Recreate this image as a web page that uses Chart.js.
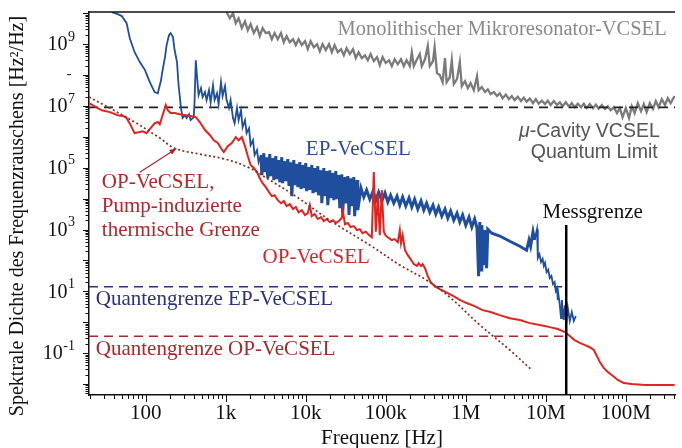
<!DOCTYPE html>
<html>
<head>
<meta charset="utf-8">
<script src="https://cdn.jsdelivr.net/npm/chart.js@4.4.0/dist/chart.umd.min.js"></script>
<style>
  html, body { margin: 0; padding: 0; background: #fff; }
</style>
</head>
<body>
<canvas id="psdChart" width="682" height="448"></canvas>
<script>
// Frequency noise spectra.
// Every trace point is [log10(f / Hz), log10(S / (Hz^2/Hz))].

// Monolithic micro-resonator VCSEL (grey)
const monoVcsel = [
  [3.01,10.04],[3.05,9.84],[3.09,10.00],[3.125,9.68],[3.16,9.84],[3.20,9.52],[3.24,9.74],[3.275,9.45],
  [3.31,9.65],[3.35,9.36],[3.39,9.55],[3.425,9.26],[3.46,9.52],[3.50,9.36],[3.54,9.39],[3.575,9.16],
  [3.61,9.36],[3.65,9.16],[3.69,9.36],[3.725,9.06],[3.76,9.26],[3.80,9.06],[3.84,9.16],[3.875,8.97],
  [3.91,9.16],[3.95,8.97],[3.99,9.10],[4.025,8.84],[4.06,9.10],[4.10,8.90],[4.14,9.00],[4.175,8.77],
  [4.21,9.00],[4.25,8.81],[4.29,9.00],[4.325,8.74],[4.36,8.97],[4.40,8.74],[4.44,8.84],[4.475,8.64],
  [4.51,8.87],[4.55,8.68],[4.59,8.84],[4.625,8.55],[4.66,8.74],[4.70,8.55],[4.74,8.64],[4.775,8.48],
  [4.81,8.68],[4.85,8.45],[4.89,8.58],[4.925,8.32],[4.96,8.58],[5.00,8.39],[5.04,8.48],[5.075,8.29],
  [5.11,8.51],[5.15,8.35],[5.19,8.51],[5.225,8.29],[5.26,8.48],[5.30,8.29],[5.325,8.74],[5.35,8.29],
  [5.39,8.51],[5.425,8.68],[5.45,8.29],[5.49,8.51],[5.525,8.94],[5.55,8.29],[5.59,8.45],[5.61,8.90],
  [5.64,8.06],[5.675,8.00],[5.71,7.77],[5.74,8.55],[5.76,7.77],[5.80,7.93],[5.825,8.48],[5.85,7.71],
  [5.89,7.87],[5.925,8.42],[5.95,7.64],[5.99,7.80],[6.025,7.58],[6.06,7.74],[6.10,7.51],[6.14,7.96],
  [6.16,7.51],[6.20,7.61],[6.24,7.45],[6.275,7.54],[6.31,7.38],[6.35,7.45],[6.39,7.32],[6.425,7.41],
  [6.46,7.25],[6.50,7.37],[6.54,7.22],[6.575,7.32],[6.61,7.19],[6.65,7.30],[6.69,7.16],[6.725,7.27],
  [6.76,7.14],[6.80,7.24],[6.84,7.09],[6.875,7.22],[6.91,7.07],[6.95,7.17],[6.99,7.06],[7.025,7.17],
  [7.06,7.03],[7.10,7.16],[7.14,7.03],[7.175,7.12],[7.21,6.99],[7.25,7.12],[7.29,6.98],[7.325,7.09],
  [7.36,6.96],[7.40,7.07],[7.44,6.96],[7.475,7.07],[7.51,6.93],[7.55,7.06],[7.59,6.93],[7.625,7.04],
  [7.66,6.91],[7.70,7.03],[7.74,6.90],[7.775,6.99],[7.81,6.86],[7.85,6.96],[7.89,6.77],[7.925,6.93],
  [7.96,6.64],[8.00,6.93],[8.04,6.61],[8.075,6.99],[8.11,6.77],[8.15,7.09],[8.19,6.83],[8.225,7.06],
  [8.26,6.80],[8.30,7.09],[8.34,6.90],[8.375,7.16],[8.41,6.96],[8.45,7.22],[8.49,7.03],[8.525,7.25],
  [8.56,7.09],[8.61,7.32]
];

// Electrically pumped VeCSEL (blue)
const epVecsel = [
  [1.575,10.04],[1.65,9.97],[1.70,9.91],[1.76,9.68],[1.80,9.19],[1.86,8.74],[1.925,8.42],[1.99,8.16],
  [2.05,7.77],[2.11,7.45],[2.15,7.41],[2.19,7.83],[2.21,8.16],[2.24,8.58],[2.26,8.97],[2.29,9.29],
  [2.31,9.36],[2.34,9.23],[2.36,8.81],[2.39,8.42],[2.41,7.67],[2.44,6.93],[2.46,6.61],[2.49,6.70],
  [2.51,6.61],[2.54,6.73],[2.56,6.54],[2.60,6.64],[2.61,7.19],[2.625,8.48],[2.64,7.96],[2.66,7.35],
  [2.69,7.58],[2.71,7.29],[2.74,7.45],[2.76,7.19],[2.79,7.51],[2.81,7.12],[2.84,7.67],[2.86,7.19],
  [2.89,7.41],[2.91,7.06],[2.94,7.77],[2.96,7.32],[2.99,7.64],[3.01,7.19],[3.04,6.93],[3.06,7.19],
  [3.09,6.61],[3.11,6.44],[3.14,6.93],[3.16,6.54],[3.19,6.86],[3.21,6.31],[3.24,6.54],[3.26,6.12],
  [3.29,6.28],[3.31,5.73],[3.34,5.89],[3.36,5.41],[3.39,5.57],[3.41,5.18],
  [3.44,5.41],[3.45,4.76],[3.475,5.47],[3.49,4.86],[3.51,5.34],[3.525,4.66],[3.55,5.44],[3.56,4.73],
  [3.59,5.31],[3.60,4.60],[3.625,5.38],[3.64,4.63],[3.66,5.25],[3.675,4.53],[3.70,5.34],[3.71,4.50],
  [3.74,5.21],[3.75,4.57],[3.775,5.28],[3.79,4.41],[3.81,5.18],[3.825,4.08],[3.85,5.25],[3.86,4.44],
  [3.89,5.12],[3.90,4.37],[3.925,5.18],[3.94,4.31],[3.96,5.09],[3.975,4.34],[4.00,5.15],[4.01,4.24],
  [4.04,5.02],[4.05,4.28],[4.075,5.09],[4.09,4.18],[4.11,4.99],[4.125,4.21],[4.15,5.05],[4.16,4.11],
  [4.19,4.92],[4.20,3.85],[4.225,4.99],[4.24,4.08],[4.26,4.89],[4.275,3.79],[4.30,4.92],[4.31,4.02],
  [4.34,4.83],[4.35,3.95],[4.375,4.89],[4.39,3.98],[4.41,4.76],[4.425,3.69],[4.45,4.79],[4.46,3.53],
  [4.49,4.70],[4.50,3.85],[4.525,4.73],[4.54,3.47],[4.56,4.66],[4.575,3.76],[4.60,4.70],[4.61,3.43],
  [4.64,4.60],[4.65,3.63],
  [4.69,4.34],[4.725,4.05],[4.76,4.28],[4.80,3.98],[4.84,4.24],[4.875,3.95],[4.91,4.21],[4.95,3.92],
  [4.99,4.18],[5.025,3.89],[5.06,4.11],[5.10,3.85],[5.14,4.08],[5.175,3.79],[5.21,4.05],[5.25,3.76],
  [5.29,4.02],[5.325,3.73],[5.36,3.98],[5.40,3.66],[5.44,3.92],[5.475,3.63],[5.51,3.85],[5.55,3.56],
  [5.59,3.79],[5.625,3.50],[5.66,3.73],[5.70,3.43],[5.74,3.66],[5.775,3.37],[5.81,3.60],[5.85,3.30],
  [5.89,3.53],[5.925,3.24],[5.96,3.47],[6.00,3.14],[6.04,3.40],[6.075,3.08],[6.11,3.34],[6.14,3.05],
  [6.16,1.49],[6.175,3.24],[6.19,1.69],[6.20,3.14],[6.225,1.85],[6.24,2.98],[6.26,1.75],[6.275,3.01],
  [6.325,2.88],[6.425,2.79],[6.55,2.62],[6.675,2.46],[6.76,2.33],[6.79,2.66],[6.81,2.46],[6.84,2.93],
  [6.86,2.66],[6.89,3.01],[6.90,2.08],[6.92,2.20],[6.94,1.95],[6.96,2.05],[6.975,1.82],[6.99,1.92],
  [7.01,1.62],[7.03,1.70],[7.05,1.43],[7.07,1.50],[7.09,1.23],[7.11,1.30],[7.125,1.01],[7.14,1.10],
  [7.15,0.72],[7.16,0.85],[7.175,0.55],[7.19,0.13],[7.20,0.72],[7.225,0.07],[7.24,0.55],[7.26,0.07],
  [7.275,0.46],[7.30,0.04],[7.325,0.33],[7.35,0.04],[7.375,0.20]
];

// Optically pumped VeCSEL (red)
const opVecsel = [
  [1.29,7.09],[1.36,6.99],[1.45,6.86],[1.55,6.80],[1.65,6.70],[1.725,6.67],[1.76,6.61],[1.81,6.38],
  [1.86,6.12],[1.91,6.15],[1.96,6.18],[2.01,6.12],[2.06,6.28],[2.11,6.44],[2.15,6.48],[2.175,6.41],
  [2.21,6.70],[2.25,7.03],[2.275,6.86],[2.31,6.77],[2.36,6.77],[2.425,6.73],[2.50,6.70],[2.575,6.67],
  [2.625,6.64],[2.675,6.48],[2.74,6.22],[2.80,6.06],[2.85,5.89],[2.90,5.80],[2.94,5.63],[2.975,5.51],
  [3.025,5.70],[3.075,5.80],[3.125,5.99],[3.16,5.89],[3.20,5.99],[3.24,5.70],[3.275,5.38],[3.31,5.09],
  [3.35,4.99],[3.39,4.86],[3.425,4.66],[3.46,4.50],[3.50,4.37],[3.54,4.21],[3.575,4.08],[3.61,4.11],
  [3.65,3.95],[3.69,3.85],[3.725,3.92],[3.76,3.76],[3.80,3.82],[3.84,3.66],[3.875,3.73],[3.91,3.56],
  [3.95,3.63],[3.99,3.47],[4.025,3.53],[4.05,3.79],[4.075,3.43],[4.11,3.50],[4.15,3.34],[4.19,3.40],
  [4.225,3.27],[4.26,3.34],[4.30,3.24],[4.34,3.30],[4.375,3.21],[4.41,3.27],[4.45,3.37],[4.46,3.63],
  [4.49,3.17],[4.525,3.21],[4.56,3.08],[4.60,3.11],[4.64,2.98],[4.675,3.01],[4.71,2.88],[4.75,2.93],
  [4.79,2.82],[4.825,2.75],[4.85,4.86],[4.875,2.93],[4.90,4.11],[4.925,2.82],[4.95,4.28],[4.975,2.93],
  [5.00,2.80],[5.04,2.72],[5.075,2.66],[5.11,2.69],[5.15,2.59],[5.175,2.98],[5.19,2.56],[5.21,2.82],
  [5.24,2.33],[5.275,2.17],[5.31,2.04],[5.35,1.88],[5.39,1.82],[5.41,1.91],[5.44,1.82],[5.46,1.88],
  [5.49,1.75],[5.525,1.49],[5.56,1.30],[5.61,1.17],[5.675,1.07],[5.75,0.97],[5.84,0.85],[5.925,0.72],
  [6.01,0.62],[6.11,0.52],[6.21,0.39],[6.31,0.33],[6.425,0.23],[6.55,0.13],[6.675,0.07],[6.80,-0.03],
  [6.925,-0.09],[7.05,-0.16],[7.15,-0.22],[7.24,-0.32],[7.30,-0.45],[7.36,-0.58],[7.425,-0.67],[7.49,-0.74],
  [7.55,-0.81],[7.60,-0.90],[7.64,-1.10],[7.675,-1.29],[7.725,-1.48],[7.775,-1.61],[7.84,-1.74],[7.90,-1.87],
  [7.975,-1.97],[8.075,-2.00],[8.24,-2.03],[8.425,-2.03],[8.61,-2.03]
];

// Pump-induced thermal limit of the OP-VeCSEL (dotted)
const thermalLimit = [
  [1.29,7.29],[1.55,6.93],[1.86,6.48],[2.175,5.96],[2.36,5.63],[2.675,5.44],[2.99,5.28],[3.275,5.02],
  [3.55,4.60],[3.89,4.05],[4.30,3.30],[4.84,2.43],[5.175,1.85],[5.51,1.36],[5.80,0.81],[6.175,-0.09],
  [6.55,-0.90],[6.825,-1.55]
];

// Horizontal limits [Hz^2/Hz] and their right ends [Hz]
const cavityQuantumLimit = 9.0e6;
const epQuantumLimit = 14;
const epLimitEnd = 1.6e7;
const opQuantumLimit = 0.35;
const opLimitEnd = 1.75e7;

// Measurement limit [Hz] and top of its marker [Hz^2/Hz]
const measurementLimit = 1.8e7;
const measurementTop = 1.4e3;

// Axis ranges and tick labels
const freqMin = 19.5, freqMax = 4.12e8;
const psdMin = 4.4e-3, psdMax = 1.1e10;
const freqTicks = [1e2, 1e3, 1e4, 1e5, 1e6, 1e7, 1e8];
const freqTickLabels = ['100', '1k', '10k', '100k', '1M', '10M', '100M'];
const psdLabelExponents = [9, 7, 5, 3, 1, -1];

const serif = "'Liberation Serif', 'DejaVu Serif', serif";
const sans = "'Liberation Sans', 'DejaVu Sans', sans-serif";

const toXY = trace => trace.map(([lf, lv]) => ({ x: 10 ** lf, y: 10 ** lv }));

// the dense, noisy part of the EP trace is drawn with a heavier pen
const epBandFrom = 2.7e3, epBandTo = 7.5e6;

// Text placed in data coordinates (f in Hz, v in Hz^2/Hz, baseline)
const notes = [
  { parts: [['Monolithischer Mikroresonator-VCSEL', '']], f: 3.24e8, v: 1.95e9, align: 'right', color: '#8a8a8a', family: serif, size: 20.5 },
  { parts: [['\u03bc', 'italic '], ['-Cavity VCSEL', '']], f: 2.66e8, v: 9.8e5, align: 'right', color: '#555', family: sans, size: 19.5 },
  { parts: [['Quantum Limit', '']], f: 2.5e8, v: 2.04e5, align: 'right', color: '#555', family: sans, size: 19.5 },
  { parts: [['EP-VeCSEL', '']], f: 1.0e4, v: 2.57e5, align: 'left', color: '#2b4c9b', family: serif, size: 21 },
  { parts: [['OP-VeCSEL,', '']], f: 28.2, v: 2.19e4, align: 'left', color: '#b3262a', family: serif, size: 21 },
  { parts: [['Pump-induzierte', '']], f: 28.2, v: 3.6e3, align: 'left', color: '#b3262a', family: serif, size: 21 },
  { parts: [['thermische Grenze', '']], f: 28.2, v: 6.1e2, align: 'left', color: '#b3262a', family: serif, size: 21 },
  { parts: [['OP-VeCSEL', '']], f: 2.88e3, v: 81, align: 'left', color: '#d4262a', family: serif, size: 21 },
  { parts: [['Messgrenze', '']], f: 9.1e6, v: 2.3e3, align: 'left', color: '#111', family: serif, size: 21 },
  { parts: [['Quantengrenze EP-VeCSEL', '']], f: 23.7, v: 3.55, align: 'left', color: '#2b3478', family: serif, size: 21 },
  { parts: [['Quantengrenze OP-VeCSEL', '']], f: 23.7, v: 0.087, align: 'left', color: '#a52a2e', family: serif, size: 21 }
];

// Arrow from the label to the thermal limit curve
const arrowFrom = { f: 84, v: 7.2e4 };
const arrowTo = { f: 245, v: 4.3e5 };

const plotDecor = {
  id: 'plotDecor',
  afterDraw(chart) {
    const { ctx, chartArea: area, scales: { x, y } } = chart;
    const seg = (x0, y0, x1, y1) => { ctx.beginPath(); ctx.moveTo(x0, y0); ctx.lineTo(x1, y1); ctx.stroke(); };
    ctx.save();

    // top frame line
    ctx.strokeStyle = '#111';
    ctx.lineWidth = 1.5;
    seg(area.left, area.top, area.right, area.top);

    // major and minor tick marks, outward
    ctx.lineWidth = 1;
    for (let e = -3; e <= 10; e++) {
      for (let k = 1; k <= 9; k++) {
        const v = k * 10 ** e;
        if (v >= psdMin && v <= psdMax) {
          const py = Math.round(y.getPixelForValue(v)) + 0.5;
          seg(area.left - (k === 1 ? 6 : 3.5), py, area.left, py);
        }
        if (v >= freqMin && v <= freqMax) {
          const px = Math.round(x.getPixelForValue(v)) + 0.5;
          seg(px, area.bottom, px, area.bottom + (k === 1 ? 7 : 4));
        }
      }
    }

    // y tick labels as 10 with raised exponent
    ctx.fillStyle = '#111';
    ctx.textBaseline = 'middle';
    const labelRight = 75;
    psdLabelExponents.forEach(e => {
      const py = y.getPixelForValue(10 ** e);
      ctx.font = '14px ' + serif;
      ctx.textAlign = 'right';
      const expText = e < 0 ? '-' + Math.abs(e) : String(e);
      const expW = ctx.measureText(expText).width;
      ctx.fillText(expText, labelRight, py - 7);
      ctx.font = '20px ' + serif;
      ctx.fillText('10', labelRight - expW - 0.5, py + 1);
    });
    ctx.font = '14px ' + serif;
    ctx.textAlign = 'center';
    ctx.fillText('-', 69, y.getPixelForValue(1e8) - 1);

    // y axis title
    ctx.save();
    ctx.translate(18, 216);
    ctx.rotate(-Math.PI / 2);
    ctx.textAlign = 'center';
    ctx.font = '20px ' + serif;
    ctx.fillText('Spektrale Dichte des Frequenzrauschens [Hz\u00b2/Hz]', 0, 0);
    ctx.restore();

    // annotations
    ctx.textBaseline = 'alphabetic';
    ctx.textAlign = 'left';
    notes.forEach(n => {
      const fonts = n.parts.map(([, style]) => style + n.size + 'px ' + n.family);
      const widths = n.parts.map(([t], i) => { ctx.font = fonts[i]; return ctx.measureText(t).width; });
      const total = widths.reduce((a, b) => a + b, 0);
      let px = x.getPixelForValue(n.f);
      if (n.align === 'right') px -= total;
      const py = y.getPixelForValue(n.v);
      ctx.fillStyle = n.color;
      n.parts.forEach(([t], i) => {
        ctx.font = fonts[i];
        ctx.fillText(t, px, py);
        px += widths[i];
      });
    });

    // arrow
    const ax0 = x.getPixelForValue(arrowFrom.f), ay0 = y.getPixelForValue(arrowFrom.v);
    const ax1 = x.getPixelForValue(arrowTo.f), ay1 = y.getPixelForValue(arrowTo.v);
    const ang = Math.atan2(ay1 - ay0, ax1 - ax0);
    ctx.strokeStyle = '#a52a2e';
    ctx.fillStyle = '#a52a2e';
    ctx.lineWidth = 1.2;
    seg(ax0, ay0, ax1 - 5 * Math.cos(ang), ay1 - 5 * Math.sin(ang));
    ctx.beginPath();
    ctx.moveTo(ax1, ay1);
    ctx.lineTo(ax1 - 8 * Math.cos(ang - 0.35), ay1 - 8 * Math.sin(ang - 0.35));
    ctx.lineTo(ax1 - 8 * Math.cos(ang + 0.35), ay1 - 8 * Math.sin(ang + 0.35));
    ctx.closePath();
    ctx.fill();

    ctx.restore();
  }
};

new Chart(document.getElementById('psdChart'), {
  type: 'line',
  data: {
    datasets: [
      {
        label: 'Messgrenze',
        data: [{ x: measurementLimit, y: measurementTop }, { x: measurementLimit, y: psdMin }],
        borderColor: '#000', borderWidth: 2.5, order: 0
      },
      {
        label: 'Pump-induzierte thermische Grenze',
        data: toXY(thermalLimit),
        borderColor: '#7e2e22', borderWidth: 1.7, borderDash: [2, 2.5], tension: 0.35, order: 1
      },
      {
        label: 'OP-VeCSEL',
        data: toXY(opVecsel),
        borderColor: '#e3231f', borderWidth: 2, order: 2
      },
      {
        label: 'EP-VeCSEL',
        data: toXY(epVecsel),
        borderColor: '#1f4e9e', borderWidth: 1.8, order: 3,
        segment: {
          borderWidth: c => (c.p0.parsed.x >= epBandFrom && c.p1.parsed.x <= epBandTo ? 3 : 1.8)
        }
      },
      {
        label: 'Quantengrenze EP-VeCSEL',
        data: [{ x: freqMin, y: epQuantumLimit }, { x: epLimitEnd, y: epQuantumLimit }],
        borderColor: '#2b3478', borderWidth: 1.6, borderDash: [9, 6], order: 4
      },
      {
        label: 'Quantengrenze OP-VeCSEL',
        data: [{ x: freqMin, y: opQuantumLimit }, { x: opLimitEnd, y: opQuantumLimit }],
        borderColor: '#a52a2e', borderWidth: 1.6, borderDash: [9, 6], order: 4
      },
      {
        label: '\u03bc-Cavity VCSEL Quantum Limit',
        data: [{ x: freqMin, y: cavityQuantumLimit }, { x: freqMax, y: cavityQuantumLimit }],
        borderColor: '#222', borderWidth: 1.6, borderDash: [9, 6], order: 5
      },
      {
        label: 'Monolithischer Mikroresonator-VCSEL',
        data: toXY(monoVcsel),
        borderColor: '#7b7b7b', borderWidth: 2.3, order: 6
      }
    ]
  },
  options: {
    responsive: false,
    animation: false,
    devicePixelRatio: 1,
    layout: { padding: { top: 12, right: 7, left: 0, bottom: 0 } },
    plugins: { legend: { display: false }, tooltip: { enabled: false } },
    elements: { point: { radius: 0 }, line: { tension: 0, fill: false } },
    scales: {
      x: {
        type: 'logarithmic',
        min: freqMin,
        max: freqMax,
        grid: { display: false, drawTicks: false },
        border: { display: true, color: '#111', width: 1.5 },
        afterBuildTicks: axis => { axis.ticks = freqTicks.map(v => ({ value: v })); },
        afterFit: axis => { axis.height = 53; },
        ticks: {
          autoSkip: false,
          maxRotation: 0,
          padding: 6,
          color: '#111',
          font: { family: serif, size: 21 },
          callback: value => freqTickLabels[freqTicks.indexOf(value)] ?? ''
        },
        title: {
          display: true,
          text: 'Frequenz [Hz]',
          color: '#111',
          font: { family: serif, size: 21, lineHeight: 1 },
          padding: { top: 0, bottom: -1 }
        }
      },
      y: {
        type: 'logarithmic',
        min: psdMin,
        max: psdMax,
        grid: { display: false, drawTicks: false },
        border: { display: true, color: '#111', width: 1.5 },
        ticks: { display: false },
        afterFit: axis => { axis.width = 89; }
      }
    }
  },
  plugins: [plotDecor]
});
</script>
</body>
</html>
